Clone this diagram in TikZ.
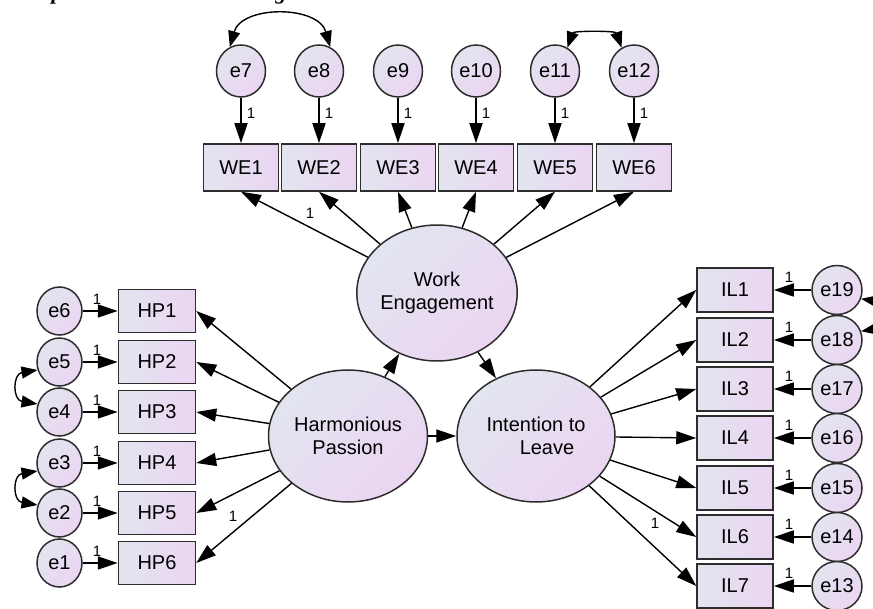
\documentclass[tikz,border=0pt]{standalone}
\usepackage{fontspec}
\setmainfont{Liberation Sans}
\newfontfamily\capfont{Liberation Serif}
\usetikzlibrary{arrows.meta,shapes.geometric}
\definecolor{fillL}{RGB}{226,229,240}
\definecolor{fillR}{RGB}{235,213,241}
\definecolor{edgec}{RGB}{45,45,45}
\begin{document}
\begin{tikzpicture}[x=1pt,y=-1pt,
  obs/.style={rectangle, draw=edgec, line width=1.5pt, left color=fillL, right color=fillR,
    inner sep=0pt, font=\fontsize{20}{22}\selectfont},
  webox/.style={obs, minimum width=75pt, minimum height=47pt},
  hpbox/.style={obs, minimum width=77pt, minimum height=43pt},
  ilbox/.style={obs, minimum width=76pt, minimum height=44pt},
  lat/.style={ellipse, draw=edgec, line width=1.5pt, top color=fillL, bottom color=fillR,
    shading angle=45, inner sep=0pt, align=center, font=\fontsize{20}{23}\selectfont},
  err/.style={ellipse, draw=edgec, line width=1.5pt, top color=fillL, bottom color=fillR,
    shading angle=45, inner sep=0pt, font=\fontsize{20}{22}\selectfont},
  topErr/.style={err, minimum width=49pt, minimum height=52pt},
  leftErr/.style={err, minimum width=45pt, minimum height=48pt},
  rightErr/.style={err, minimum width=50pt, minimum height=49pt},
  arr/.style={-{Triangle[length=20pt,width=13pt]}, line width=1.4pt, draw=black},
  cov/.style={{Triangle[length=16pt,width=12pt]}-{Triangle[length=16pt,width=12pt]}, line width=1.4pt, draw=black},
  lbl/.style={inner sep=0pt, font=\fontsize{15}{15}\selectfont}
]
\path[use as bounding box, clip] (0,0) rectangle (873,609);

% cut-off caption fragments (only their lower parts are visible)
\node[anchor=base, inner sep=0pt, font=\capfont\bfseries\itshape\fontsize{22}{22}\selectfont] (capp) at (57,0) {p};
\node[anchor=base, inner sep=0pt, font=\capfont\bfseries\itshape\fontsize{22}{22}\selectfont] (capg) at (281,0) {g};

% latent variables
\node[lat, minimum width=158pt, minimum height=136pt] (WE) at (437,293) {Work\\Engagement};
\node[lat, minimum width=159pt, minimum height=132pt] (HP) at (348,436) {Harmonious\\Passion};
\node[lat, minimum width=158pt, minimum height=132pt] (IL) at (536,436) {Intention to\\\hspace*{22pt}Leave};

% WE indicators and errors
\foreach \i/\x/\e in {1/241/7, 2/319/8, 3/398/9, 4/476/10, 5/555/11, 6/634/12} {
  \node[webox] (WE\i) at (\x,167.5) {WE\i};
  \node[topErr] (e\e) at (\x,71) {e\e};
  \draw[arr] (e\e) -- (WE\i);
  \node[lbl] (lw\i) at (\x+10,113) {1};
  \draw[arr] (WE) -- (WE\i.south);
}

% HP indicators and errors
\foreach \i/\y/\e in {1/311/6, 2/362/5, 3/412/4, 4/463/3, 5/513/2, 6/563/1} {
  \node[hpbox] (HP\i) at (157,\y) {HP\i};
  \node[leftErr] (e\e) at (59.5,\y) {e\e};
  \draw[arr] (e\e) -- (HP\i);
  \node[lbl] (lh\i) at (97,\y-12) {1};
  \draw[arr] (HP) -- (HP\i.east);
}

% IL indicators and errors
\foreach \i/\y/\e in {1/290/19, 2/340/18, 3/389/17, 4/438/16, 5/488/15, 6/537/14, 7/586/13} {
  \node[ilbox] (IL\i) at (735,\y) {IL\i};
  \node[rightErr] (e\e) at (837,\y) {e\e};
  \draw[arr] (e\e) -- (IL\i);
  \node[lbl] (li\i) at (789,\y-13) {1};
  \draw[arr] (IL) -- (IL\i.west);
}

% structural paths
\draw[arr] (HP) -- (WE);
\draw[arr] (WE) -- (IL);
\draw[arr] (HP) -- (IL);

% fixed loadings
\node[lbl] (fw) at (310,213) {1};
\node[lbl] (fh) at (233,516) {1};
\node[lbl] (fi) at (655,523) {1};

% covariances
\draw[cov] (e7.115) .. controls +(12,-42) and +(-12,-42) .. (e8.65);
\draw[cov] (e11.62) .. controls +(6,-17) and +(-6,-17) .. (e12.118);
\draw[cov] (e5.200) .. controls +(-25,4) and +(-25,-4) .. (e4.160);
\draw[cov] (e3.200) .. controls +(-25,4) and +(-25,-4) .. (e2.160);
\draw[cov] (e19.340) .. controls +(25,4) and +(25,-4) .. (e18.20);
\end{tikzpicture}
\end{document}
